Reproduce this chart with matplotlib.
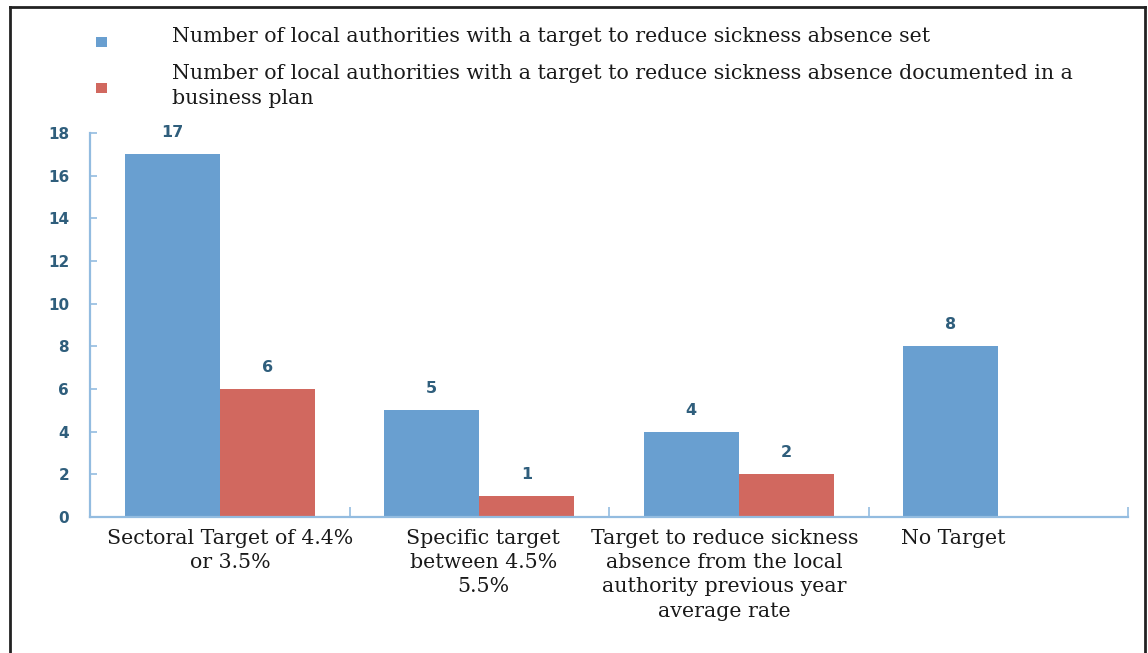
import matplotlib
matplotlib.use("Agg")
import matplotlib.pyplot as plt
from matplotlib.patches import Rectangle
from matplotlib.lines import Line2D
import numpy as np

# ---- data ----
categories = [
    "Sectoral Target of 4.4%\nor 3.5%",
    "Specific target\nbetween 4.5%\n5.5%",
    "Target to reduce sickness\nabsence from the local\nauthority previous year\naverage rate",
    "No Target",
]
series_names = [
    "Number of local authorities with a target to reduce sickness absence set",
    "Number of local authorities with a target to reduce sickness absence documented in a\nbusiness plan",
]
targets_set = [17, 5, 4, 8]
targets_documented = [6, 1, 2, None]
y_ticks = [0, 2, 4, 6, 8, 10, 12, 14, 16, 18]

# ---- style ----
W, H = 1148, 653
BLUE = "#699FD0"
RED = "#D1685F"
AXIS = "#93BCE0"
NUM = "#2F5E7C"
SERIF = ["DejaVu Serif"]
TXT_SIZE = 14.75
LSP = 1.36

fig = plt.figure(figsize=(W / 100, H / 100), dpi=100)
ax = fig.add_axes([90 / W, 136 / H, 1038 / W, 384 / H])

x = np.arange(len(categories))
bw = 0.366
colors = [BLUE, RED]
series = [targets_set, targets_documented]
offsets = [-bw / 2, bw / 2]

for vals, col, off in zip(series, colors, offsets):
    xs = [xi + off for xi, v in zip(x, vals) if v is not None]
    vs = [v for v in vals if v is not None]
    bars = ax.bar(xs, vs, width=bw, color=col, edgecolor="none", zorder=2)
    for b, v in zip(bars, vs):
        ax.annotate(str(v), (b.get_x() + b.get_width() / 2, v),
                    xytext=(0, 15.5), textcoords="offset points",
                    ha="center", va="center", fontsize=11.5,
                    fontweight="bold", color=NUM)

ax.set_xlim(-0.5, 3.5)
ax.set_ylim(0, 18)
ax.set_yticks(y_ticks)
ax.set_yticklabels([str(t) for t in y_ticks])
ax.set_xticks([0.5, 1.5, 2.5, 3.5])
ax.set_xticklabels([])

for s in ("top", "right"):
    ax.spines[s].set_visible(False)
for s in ("left", "bottom"):
    ax.spines[s].set_color(AXIS)
    ax.spines[s].set_linewidth(1.6)

ax.tick_params(axis="y", direction="in", length=5, width=1.2, color=AXIS,
               labelcolor=NUM, labelsize=11, pad=15)
for lab in ax.get_yticklabels():
    lab.set_fontweight("bold")
ax.tick_params(axis="x", direction="in", length=7, width=1.2, color=AXIS)

# category labels below the axis
label_shift = [0.04, 0.015, -0.055, -0.172]
trans = ax.get_xaxis_transform()
for xi, cat, sh in zip(x, categories, label_shift):
    ax.text(xi + sh, -0.03, cat, transform=trans, ha="center", va="top",
            multialignment="center", fontsize=TXT_SIZE, family=SERIF,
            linespacing=LSP, color="#1a1a1a")

# legend
leg_y = [42, 88]
text_y = [37, 86]
for col, name, ly, ty in zip(colors, series_names, leg_y, text_y):
    fig.add_artist(Rectangle((96 / W, 1 - (ly + 5) / H), 11 / W, 10 / H,
                             transform=fig.transFigure, facecolor=col,
                             edgecolor="none"))
    fig.text(172 / W, 1 - ty / H, name, ha="left", va="center",
             fontsize=TXT_SIZE, family=SERIF, linespacing=LSP,
             color="#1a1a1a")

# outer frame (left, top, right)
frame_kw = dict(transform=fig.transFigure, color="#222222", linewidth=2.0)
fig.add_artist(Line2D([10 / W, 10 / W], [0, 1 - 7 / H], **frame_kw))
fig.add_artist(Line2D([10 / W, 1145 / W], [1 - 7 / H, 1 - 7 / H], **frame_kw))
fig.add_artist(Line2D([1145 / W, 1145 / W], [0, 1 - 7 / H], **frame_kw))

fig.savefig("out.png", dpi=100)
